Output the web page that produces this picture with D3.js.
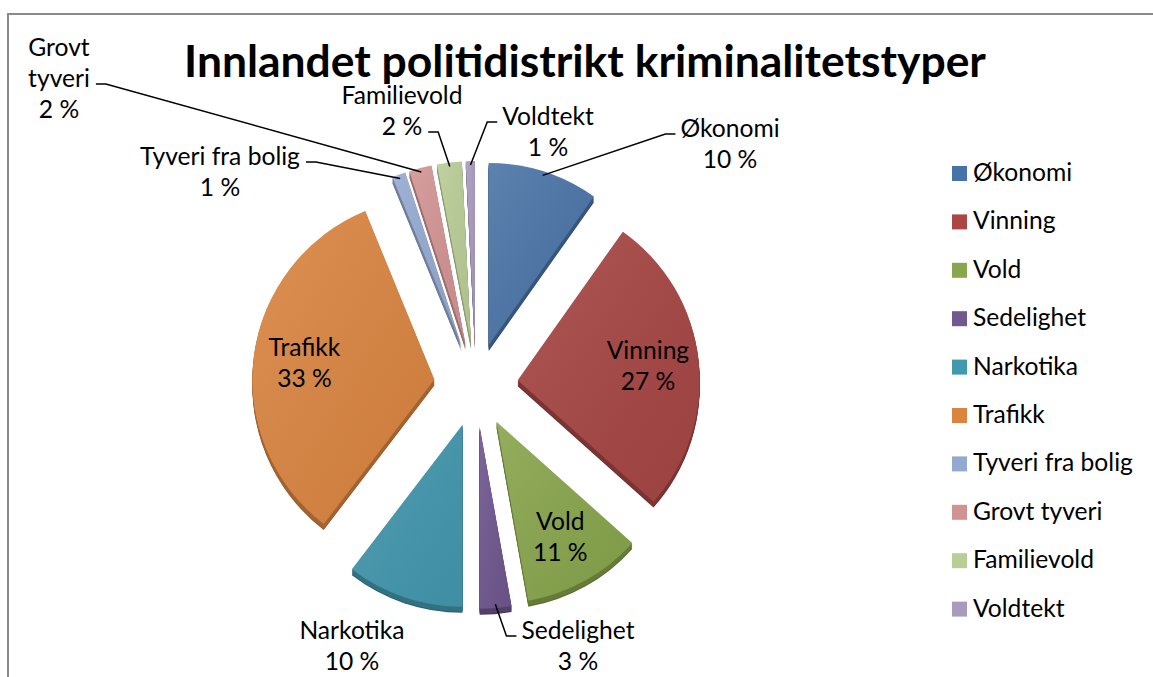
<!DOCTYPE html>
<html lang="en">
  <head>
    <meta charset="utf-8">
    <title>Innlandet politidistrikt kriminalitetstyper</title>
    <script src="https://d3js.org/d3.v7.min.js"></script>
    <style>
      body { margin: 0; background: #fff; }
    </style>
  </head>
  <body>
    <script type="text/javascript">
      const categories = ["Økonomi", "Vinning", "Vold", "Sedelighet", "Narkotika", "Trafikk",
                          "Tyveri fra bolig", "Grovt tyveri", "Familievold", "Voldtekt"];
      const shares = [9.8, 26.8, 10.6, 2.8, 10.4, 33.4, 1.2, 2.0, 2.2, 0.8];
      const faceColors = ["#4a74a7", "#a64644", "#88a54c", "#6f568e", "#4397ae",
                          "#da8541", "#95aad1", "#d29493", "#b9cd96", "#a99bc0"];
      const legendColors = ["#4572a7", "#aa4643", "#89a54e", "#71588f", "#4198af",
                            "#db843d", "#93a9cf", "#d19392", "#b9cd96", "#a99bbd"];
      const insideLabels = ["Vinning", "Vold", "Trafikk"];

      // label layout for the labels Excel put outside the pie
      const outsideLabels = [
        {name: "Økonomi", x: 730, y: 137, leaderLine: 0, side: "left"},
        {name: "Voldtekt", x: 548, y: 125, leaderLine: 0, side: "left"},
        {name: "Familievold", x: 402, y: 104, leaderLine: 1, side: "right"},
        {name: "Grovt tyveri", x: 59, y: 56, leaderLine: 1, side: "right", wrap: true},
        {name: "Tyveri fra bolig", x: 220, y: 165, leaderLine: 0, side: "right"},
        {name: "Sedelighet", x: 578, y: 639, leaderLine: 0, side: "left"},
        {name: "Narkotika", x: 352, y: 639, leaderLine: null}
      ];

      const width = 1153;
      const height = 677;
      const font = "Lato, 'Open Sans', sans-serif";

      const cx = 476, cy = 385;
      const radius = 182;
      const explode = 42;
      const depth = 6;
      const lineGap = 31;

      const svg = d3.select("body")
        .append("svg")
        .attr("width", width)
        .attr("height", height);

      svg.append("rect")
        .attr("x", 8)
        .attr("y", 14)
        .attr("width", width + 20)
        .attr("height", height + 20)
        .attr("fill", "#fff")
        .attr("stroke", "#8a8a8a")
        .attr("stroke-width", 2);

      // title, fitted to the width it has in the picture
      const title = svg.append("text")
        .attr("x", 585)
        .attr("y", 77)
        .attr("text-anchor", "middle")
        .attr("font-family", font)
        .attr("font-weight", "700")
        .attr("font-size", 40)
        .text("Innlandet politidistrikt kriminalitetstyper");
      const titleW = title.node().getComputedTextLength();
      title.attr("font-size", 40 * 802 / titleW);

      // label font size, fitted the same way
      const probe = svg.append("text")
        .attr("font-family", font)
        .attr("font-size", 20)
        .text("Tyveri fra bolig");
      const labelSize = 20 * 160 / probe.node().getComputedTextLength();
      probe.remove();

      const data = categories.map((c, i) => ({name: c, value: shares[i], face: faceColors[i], legend: legendColors[i]}));

      const pie = d3.pie()
        .sort(null)
        .value(d => d.value);

      const arc = d3.arc()
        .innerRadius(0)
        .outerRadius(radius);

      const arcs = pie(data);
      arcs.forEach(a => {
        a.mid = (a.startAngle + a.endAngle) / 2;
        a.dx = explode * Math.sin(a.mid);
        a.dy = -explode * Math.cos(a.mid);
      });

      const gPie = svg.append("g")
        .attr("class", "pie")
        .attr("transform", `translate(${cx},${cy})`);

      // side walls: stacked copies pushed down
      const gSides = gPie.append("g").attr("class", "sides");
      d3.range(depth, 0, -1).forEach(k => {
        gSides.selectAll(null)
          .data(arcs)
          .enter()
          .append("path")
          .attr("d", arc)
          .attr("transform", d => `translate(${d.dx},${d.dy + k})`)
          .attr("fill", d => d3.color(d.data.face).darker(k === depth ? 1.3 : 0.8));
      });

      const defs = svg.append("defs");
      const grad = defs.append("linearGradient")
        .attr("id", "shine")
        .attr("x1", 0).attr("y1", 0)
        .attr("x2", 1).attr("y2", 1);
      grad.append("stop").attr("offset", "0%").attr("stop-color", "#fff").attr("stop-opacity", 0.1);
      grad.append("stop").attr("offset", "100%").attr("stop-color", "#000").attr("stop-opacity", 0.06);

      gPie.append("g")
        .attr("class", "faces")
        .selectAll("path")
        .data(arcs)
        .enter()
        .append("path")
        .attr("d", arc)
        .attr("transform", d => `translate(${d.dx},${d.dy})`)
        .attr("fill", d => d.data.face);

      gPie.append("g")
        .attr("class", "shine")
        .selectAll("path")
        .data(arcs)
        .enter()
        .append("path")
        .attr("d", arc)
        .attr("transform", d => `translate(${d.dx},${d.dy})`)
        .attr("fill", "url(#shine)");

      const pct = d => Math.round(d.value) + " %";

      // labels inside the slices
      const gInside = svg.append("g").attr("class", "inside-labels");
      arcs.filter(a => insideLabels.includes(a.data.name)).forEach(a => {
        const r = radius * 0.72;
        const x = cx + a.dx + r * Math.sin(a.mid);
        const y = cy + a.dy - r * Math.cos(a.mid);
        const t = gInside.append("text")
          .attr("text-anchor", "middle")
          .attr("font-family", font)
          .attr("font-size", labelSize)
          .attr("fill", "#000");
        t.append("tspan").attr("x", x).attr("y", y - 6).text(a.data.name);
        t.append("tspan").attr("x", x).attr("y", y - 6 + lineGap).text(pct(a.data));
      });

      // labels outside with leader lines
      const gOutside = svg.append("g").attr("class", "outside-labels");
      outsideLabels.forEach(l => {
        const a = arcs.find(d => d.data.name === l.name);
        const lines = l.wrap ? l.name.split(" ").concat([pct(a.data)]) : [l.name, pct(a.data)];
        const t = gOutside.append("text")
          .attr("text-anchor", "middle")
          .attr("font-family", font)
          .attr("font-size", labelSize)
          .attr("fill", "#000");
        const spans = lines.map((s, i) => t.append("tspan")
          .attr("x", l.x)
          .attr("y", l.y + i * lineGap)
          .text(s));

        if (l.leaderLine === null) return;
        const w = spans[l.leaderLine].node().getComputedTextLength();
        const ly = l.y + l.leaderLine * lineGap - 3;
        const x0 = l.side === "left" ? l.x - w / 2 - 5 : l.x + w / 2 + 6;
        const x1 = l.side === "left" ? x0 - 10 : x0 + 10;
        const rr = radius - 4;
        const ex = cx + a.dx + rr * Math.sin(a.mid);
        const ey = cy + a.dy - rr * Math.cos(a.mid);
        gOutside.append("path")
          .attr("d", d3.line()([[x0, ly], [x1, ly], [ex, ey]]))
          .attr("fill", "none")
          .attr("stroke", "#000")
          .attr("stroke-width", 1.5);
      });

      // legend
      const legend = svg.append("g")
        .attr("class", "legend")
        .attr("transform", "translate(952,166)");
      const items = legend.selectAll("g")
        .data(data)
        .enter()
        .append("g")
        .attr("transform", (d, i) => `translate(0,${i * 48.4})`);
      items.append("rect")
        .attr("width", 15)
        .attr("height", 15)
        .attr("fill", d => d.legend);
      items.append("text")
        .attr("x", 21)
        .attr("y", 15)
        .attr("font-family", font)
        .attr("font-size", labelSize)
        .attr("fill", "#000")
        .text(d => d.name);
    </script>
  </body>
</html>
